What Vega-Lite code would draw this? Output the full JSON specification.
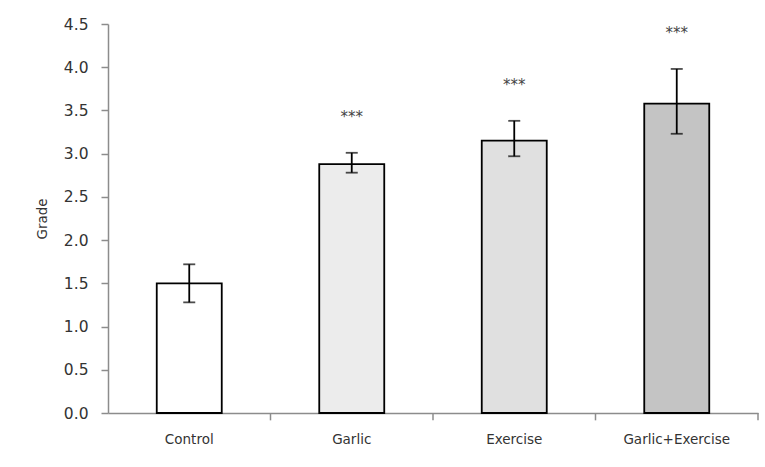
{
  "$schema": "https://vega.github.io/schema/vega-lite/v6.json",
  "width": 650,
  "height": 389,
  "autosize": {"type": "none"},
  "padding": {"left": 108, "top": 24, "right": 7, "bottom": 54},
  "background": "white",
  "config": {
    "view": {"stroke": null}
  },
  "data": {
    "values": [
      {"group": "Control", "mean": 1.5, "lower": 1.28, "upper": 1.72, "sig": ""},
      {"group": "Garlic", "mean": 2.88, "lower": 2.78, "upper": 3.01, "sig": "***"},
      {"group": "Exercise", "mean": 3.15, "lower": 2.97, "upper": 3.38, "sig": "***"},
      {"group": "Garlic+Exercise", "mean": 3.58, "lower": 3.23, "upper": 3.98, "sig": "***"}
    ]
  },
  "encoding": {
    "x": {
      "field": "group", "type": "nominal", "sort": null,
      "scale": {"paddingInner": 0, "paddingOuter": 0},
      "axis": {"title": null, "labelAngle": 0, "ticks": false, "labelPadding": 19,
        "domainColor": "#8c8c8c", "domainWidth": 1.5,
        "labelColor": "#333333", "labelFont": "DejaVu Sans", "labelFontSize": 13.5}
    }
  },
  "layer": [
    {
      "mark": {"type": "bar", "stroke": "black", "strokeWidth": 1.8, "width": {"band": 0.4}},
      "encoding": {
        "y": {"field": "mean", "type": "quantitative", "scale": {"domain": [0, 4.5]},
          "axis": {"title": "Grade", "values": [0, 0.5, 1, 1.5, 2, 2.5, 3, 3.5, 4, 4.5], "format": ".1f", "grid": false,
            "labelPadding": 13, "titlePadding": 14,
            "domainColor": "#8c8c8c", "tickColor": "#8c8c8c", "domainWidth": 1.5, "tickWidth": 1.5, "tickSize": 7,
            "labelColor": "#333333", "labelFont": "DejaVu Sans", "labelFontSize": 15.5,
            "titleColor": "#333333", "titleFont": "DejaVu Sans", "titleFontSize": 13.5, "titleFontWeight": "normal"}},
        "fill": {"field": "group", "type": "nominal", "sort": null, "legend": null,
          "scale": {"domain": ["Control", "Garlic", "Exercise", "Garlic+Exercise"], "range": ["#ffffff", "#ececec", "#e0e0e0", "#c4c4c4"]}}
      }
    },
    {
      "mark": {"type": "rule", "color": "#8c8c8c", "strokeWidth": 1.5, "clip": false},
      "encoding": {
        "x": {"field": "group", "type": "nominal", "sort": null, "bandPosition": 1},
        "y": {"datum": 0, "type": "quantitative"},
        "y2": {"datum": -0.085}
      }
    },
    {
      "mark": {"type": "rule", "color": "black", "strokeWidth": 1.8},
      "encoding": {
        "y": {"field": "lower", "type": "quantitative"},
        "y2": {"field": "upper"}
      }
    },
    {
      "mark": {"type": "tick", "color": "black", "thickness": 1.8, "size": 12},
      "encoding": {"y": {"field": "lower", "type": "quantitative"}}
    },
    {
      "mark": {"type": "tick", "color": "black", "thickness": 1.8, "size": 12},
      "encoding": {"y": {"field": "upper", "type": "quantitative"}}
    },
    {
      "mark": {"type": "text", "dy": -36, "fontSize": 15, "color": "#444444", "baseline": "middle", "font": "DejaVu Sans"},
      "encoding": {
        "y": {"field": "upper", "type": "quantitative"},
        "text": {"field": "sig"}
      }
    }
  ]
}
